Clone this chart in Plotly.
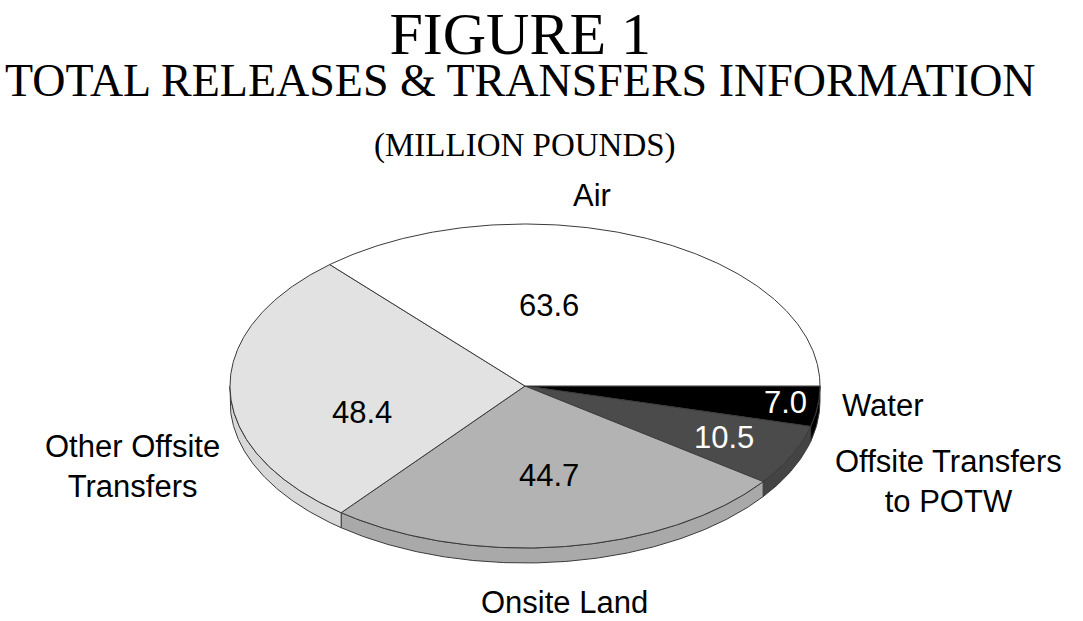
import numpy as np
import plotly.graph_objects as go

# Release categories, drawn clockwise from 3 o'clock
categories = ["Water", "Offsite Transfers<br>to POTW", "Onsite Land",
              "Other Offsite<br>Transfers", "Air"]
values = [7.0, 10.5, 44.7, 48.4, 63.6]

top_colors = ["#000000", "#4b4b4b", "#b3b3b3", "#e2e2e2", "#ffffff"]
side_colors = ["#000000", "#444444", "#a9a9a9", "#d8d8d8", "#eeeeee"]
value_font_colors = ["white", "white", "black", "black", "black"]

# Category label positions (pixel space) and value label positions
label_pos = [(883, 405), (948, 481), (564, 602), (132, 466), (592, 195)]
value_pos = [(785, 402), (724, 437), (549, 475), (362, 412), (549, 305)]

W, H = 1083, 621
CX, CY, RX, RY, DEPTH = 525, 386, 295, 162, 15
EDGE = "#3a3a3a"


def arc(a1, a2, dy=0.0):
    n = max(int(abs(a2 - a1) * 2), 8)
    t = np.radians(np.linspace(a1, a2, n))
    return CX + RX * np.cos(t), CY + RY * np.sin(t) + dy


total = sum(values)
bounds = np.concatenate([[0.0], np.cumsum(values) / total * 360.0])

fig = go.Figure()

# Rim of the tilted disc: only the front half (0..180 deg) is visible
for i, v in enumerate(values):
    s1, s2 = max(bounds[i], 0.0), min(bounds[i + 1], 180.0)
    if s2 <= s1:
        continue
    xt, yt = arc(s1, s2)
    xb, yb = arc(s2, s1, DEPTH)
    fig.add_trace(go.Scatter(
        x=np.concatenate([xt, xb, xt[:1]]), y=np.concatenate([yt, yb, yt[:1]]),
        mode="lines", fill="toself", fillcolor=side_colors[i],
        line=dict(color=EDGE, width=1), hoverinfo="skip", showlegend=False))

# Top face wedges
for i, v in enumerate(values):
    xa, ya = arc(bounds[i], bounds[i + 1])
    fig.add_trace(go.Scatter(
        x=np.concatenate([[CX], xa, [CX]]), y=np.concatenate([[CY], ya, [CY]]),
        mode="lines", fill="toself", fillcolor=top_colors[i],
        line=dict(color=EDGE, width=1), name=categories[i].replace("<br>", " "),
        hovertemplate="%{fullData.name}: " + f"{v:.1f}<extra></extra>",
        showlegend=False))

annotations = []
sans = "Liberation Sans, Arial, sans-serif"
serif = "Liberation Serif, Times New Roman, serif"
for i, v in enumerate(values):
    annotations.append(dict(x=value_pos[i][0], y=value_pos[i][1], text=f"{v:.1f}",
                            showarrow=False, font=dict(family=sans, size=31,
                                                       color=value_font_colors[i])))
    annotations.append(dict(x=label_pos[i][0], y=label_pos[i][1], text=categories[i],
                            showarrow=False, font=dict(family=sans, size=31, color="black")))

# Two-line heading; the small base size keeps the lines tightly spaced
annotations += [
    dict(x=520, y=53, text=("<span style='font-size:60px'>FIGURE 1</span><br>"
                            "<span style='font-size:46px'>TOTAL RELEASES &amp; "
                            "TRANSFERS INFORMATION</span>"),
         showarrow=False, font=dict(family=serif, size=32, color="black")),
    dict(x=525, y=145, text="(MILLION POUNDS)", showarrow=False,
         font=dict(family=serif, size=33, color="black")),
]

fig.update_layout(
    width=W, height=H,
    margin=dict(l=0, r=0, t=0, b=0),
    paper_bgcolor="white", plot_bgcolor="white",
    xaxis=dict(range=[0, W], visible=False, fixedrange=True),
    yaxis=dict(range=[H, 0], visible=False, fixedrange=True),
    annotations=annotations,
)

fig.write_html("out.html")
